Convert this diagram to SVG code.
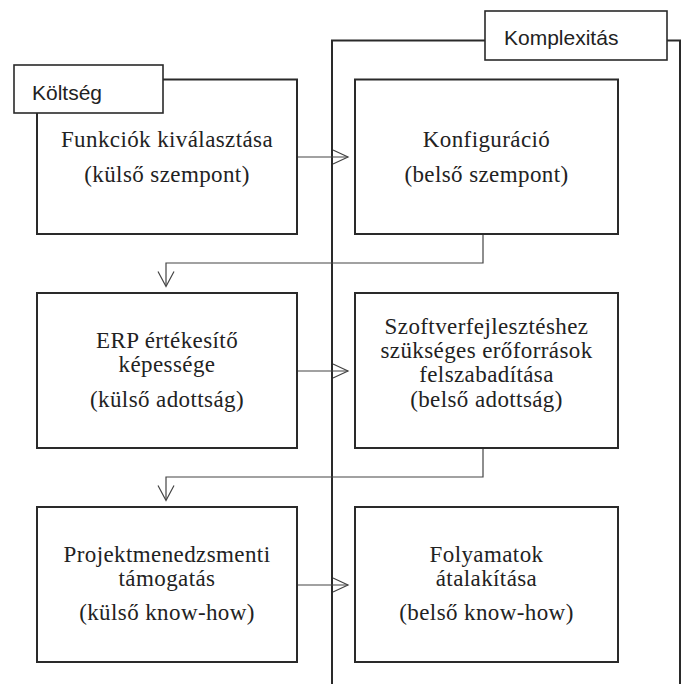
<svg xmlns="http://www.w3.org/2000/svg" width="684" height="684" viewBox="0 0 684 684">
  <defs>
    <style>
      .box { fill: #ffffff; stroke: #2a2a2a; stroke-width: 2; }
      .frame { fill: none; stroke: #2a2a2a; stroke-width: 2; }
      .lbl { fill: #ffffff; stroke: #2a2a2a; stroke-width: 1.6; }
      .conn { fill: none; stroke: #444444; stroke-width: 1.2; }
      .head { fill: none; stroke: #444444; stroke-width: 1.2; stroke-linejoin: miter; }
      .t { font-family: "Liberation Serif", "Times New Roman", serif; font-size: 23px; letter-spacing: 0.4px; fill: #222222; text-anchor: middle; }
      .s { font-family: "Liberation Sans", Arial, sans-serif; font-size: 21px; fill: #222222; }
    </style>
  </defs>
  <rect width="684" height="684" fill="#ffffff"/>

  <g id="complexity-frame">
    <path class="frame" d="M332,684 V40.5 H680 V684"/>
    <rect class="lbl" x="485" y="11" width="182" height="49"/>
    <text class="s" x="504" y="45">Komplexitás</text>
  </g>

  <g id="connectors">
    <line class="conn" x1="297" y1="157" x2="348" y2="157"/>
    <polyline class="head" points="333,150 348,157 333,164"/>
    <polyline class="conn" points="483,234 483,263 166,263 166,286"/>
    <polyline class="head" points="158,271.5 166,286.5 174,271.5"/>
    <line class="conn" x1="297" y1="371" x2="348" y2="371"/>
    <polyline class="head" points="333,364 348,371 333,378"/>
    <polyline class="conn" points="483,448 483,477 166,477 166,500"/>
    <polyline class="head" points="158,485.5 166,500.5 174,485.5"/>
    <line class="conn" x1="297" y1="585" x2="348" y2="585"/>
    <polyline class="head" points="333,578 348,585 333,592"/>
  </g>

  <g id="n1">
    <rect class="box" x="37" y="79.5" width="260" height="154.5"/>
    <text class="t" x="167" y="147">Funkciók kiválasztása</text>
    <text class="t" x="167" y="182">(külső szempont)</text>
  </g>

  <g id="cost-label">
    <rect class="lbl" x="14" y="65" width="149" height="48"/>
    <text class="s" x="32" y="100">Költség</text>
  </g>

  <g id="n2">
    <rect class="box" x="355" y="79.5" width="263" height="154.5"/>
    <text class="t" x="486.5" y="147">Konfiguráció</text>
    <text class="t" x="486.5" y="182">(belső szempont)</text>
  </g>

  <g id="n3">
    <rect class="box" x="37" y="293" width="260" height="155"/>
    <text class="t" x="167" y="348">ERP értékesítő</text>
    <text class="t" x="167" y="372">képessége</text>
    <text class="t" x="167" y="407">(külső adottság)</text>
  </g>

  <g id="n4">
    <rect class="box" x="355" y="293" width="263" height="155"/>
    <text class="t" x="486.5" y="334">Szoftverfejlesztéshez</text>
    <text class="t" x="486.5" y="358">szükséges erőforrások</text>
    <text class="t" x="486.5" y="382">felszabadítása</text>
    <text class="t" x="486.5" y="407">(belső adottság)</text>
  </g>

  <g id="n5">
    <rect class="box" x="37" y="507" width="260" height="155"/>
    <text class="t" x="167" y="562">Projektmenedzsmenti</text>
    <text class="t" x="167" y="586">támogatás</text>
    <text class="t" x="167" y="620">(külső know-how)</text>
  </g>

  <g id="n6">
    <rect class="box" x="355" y="507" width="263" height="155"/>
    <text class="t" x="486.5" y="562">Folyamatok</text>
    <text class="t" x="486.5" y="586">átalakítása</text>
    <text class="t" x="486.5" y="620">(belső know-how)</text>
  </g>
</svg>
